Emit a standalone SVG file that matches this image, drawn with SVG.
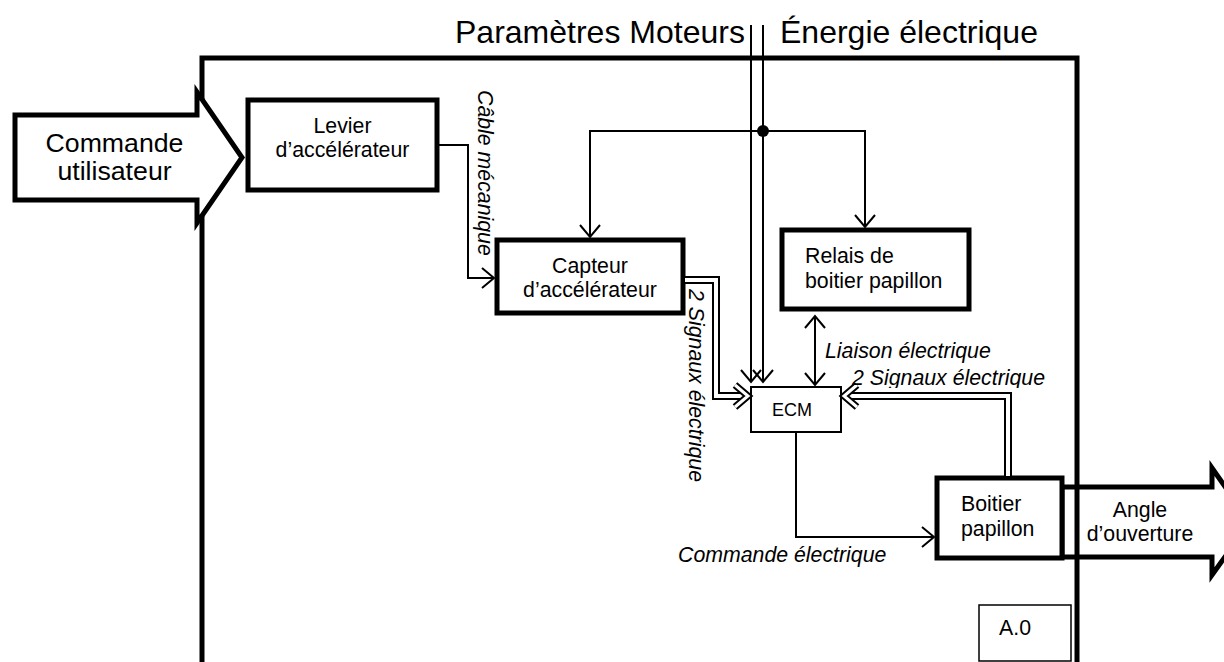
<svg xmlns="http://www.w3.org/2000/svg" width="1224" height="662" viewBox="0 0 1224 662">
<style>
.t{font-family:"Liberation Sans",Arial,sans-serif;fill:#000;font-size:21.3px}
.c{text-anchor:middle}
.it{font-style:italic}
.box{fill:#fff;stroke:#000;stroke-width:5}
.thin{fill:#fff;stroke:#000;stroke-width:2}
.big{fill:#fff;stroke:#000;stroke-width:5;stroke-linejoin:miter}
.ln{fill:none;stroke:#000;stroke-width:2}
.dbo{fill:none;stroke:#000;stroke-width:8;stroke-linejoin:miter}
.dbi{fill:none;stroke:#fff;stroke-width:4;stroke-linejoin:miter}
</style>
<defs>
<marker id="v" markerUnits="userSpaceOnUse" markerWidth="20" markerHeight="26" viewBox="0 0 20 26" refX="15" refY="13" orient="auto-start-reverse" overflow="visible">
<path d="M3,3 L15,13 L3,23" fill="none" stroke="#000" stroke-width="2"/>
</marker>
<marker id="vv" markerUnits="userSpaceOnUse" markerWidth="24" markerHeight="30" viewBox="0 0 24 30" refX="18" refY="15" orient="auto" overflow="visible">
<path d="M5,4 L18,15 L5,26" fill="none" stroke="#000" stroke-width="7"/>
<path d="M5,4 L18,15 L5,26" fill="none" stroke="#fff" stroke-width="3"/>
</marker>
<clipPath id="clipSig"><rect x="840" y="355" width="220" height="33"/></clipPath>
</defs>
<rect width="1224" height="662" fill="#fff"/>

<g id="angle-ouverture">
<polygon class="big" fill="none" points="1062,487 1212,487 1212,468 1250,522 1212,575 1212,557 1062,557"/>
<text class="t c" x="1140" y="517">Angle</text>
<text class="t c" x="1140" y="541">d’ouverture</text>
</g>

<g id="frame">
<path d="M202,662 V58 H1077 V662" fill="none" stroke="#000" stroke-width="5"/>
</g>

<g id="titles">
<text class="t" style="font-size:32px" x="455" y="43">Paramètres Moteurs</text>
<text class="t" style="font-size:32px" x="780" y="43">Énergie électrique</text>
</g>

<g id="commande-utilisateur">
<polygon class="big" points="15,115 197,115 197,92 242,157.5 197,223 197,200 15,200"/>
<text class="t c" style="font-size:26.7px" x="114.5" y="152">Commande</text>
<text class="t c" style="font-size:26.7px" x="114.5" y="180">utilisateur</text>
</g>

<g id="levier">
<rect class="box" x="248" y="100" width="189" height="90"/>
<text class="t c" x="342.5" y="133">Levier</text>
<text class="t c" x="342.5" y="157">d’accélérateur</text>
</g>

<g id="capteur">
<rect class="box" x="497" y="240" width="186" height="73"/>
<text class="t c" x="590" y="273">Capteur</text>
<text class="t c" x="590" y="297">d’accélérateur</text>
</g>

<g id="relais">
<rect class="box" x="782" y="230" width="187" height="79"/>
<text class="t" x="805" y="263">Relais de</text>
<text class="t" x="805" y="288">boitier papillon</text>
</g>

<g id="ecm">
<rect class="thin" x="751" y="387" width="90" height="45"/>
<text class="t c" style="font-size:18px" x="792" y="416">ECM</text>
</g>

<g id="boitier">
<rect class="box" x="937" y="478" width="125" height="80"/>
<text class="t" x="961" y="511">Boitier</text>
<text class="t" x="961" y="536">papillon</text>
</g>

<g id="a0">
<rect x="979" y="605" width="92" height="56" fill="#fff" stroke="#000" stroke-width="1.5"/>
<text class="t c" x="1015" y="635">A.0</text>
</g>

<g id="connectors">
<path class="ln" d="M439,145 H468 V278 H494" marker-end="url(#v)"/>
<path class="ln" d="M751,25 V382" marker-end="url(#v)"/>
<path class="ln" d="M763,25 V382" marker-end="url(#v)"/>
<path class="ln" d="M763,131 H590 V237" marker-end="url(#v)"/>
<path class="ln" d="M763,131 H865 V227" marker-end="url(#v)"/>
<circle cx="763" cy="131" r="6" fill="#000"/>
<path class="ln" d="M815,316 V385" marker-start="url(#v)" marker-end="url(#v)"/>
<path class="ln" d="M796,433 V537 H934" marker-end="url(#v)"/>
<path class="dbo" d="M685,280 H716 V396 H748"/>
<path class="dbi" d="M685,280 H716 V396 H748" marker-end="url(#vv)"/>
<path class="dbo" d="M1008,476 V396 H844"/>
<path class="dbi" d="M1008,476 V396 H844" marker-end="url(#vv)"/>
<text class="t it" transform="translate(478,90) rotate(90)">Câble mécanique</text>
<text class="t it" transform="translate(689,289) rotate(90)">2 Signaux électrique</text>
<text class="t it" x="825" y="358">Liaison électrique</text>
<text class="t it" x="852" y="385" clip-path="url(#clipSig)">2 Signaux électrique</text>
<text class="t it" x="678" y="562">Commande électrique</text>
</g>
</svg>
